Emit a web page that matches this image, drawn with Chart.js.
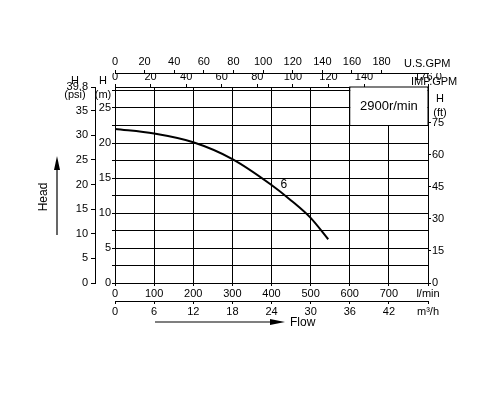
<!DOCTYPE html>
<html><head><meta charset="utf-8">
<script src="https://cdn.jsdelivr.net/npm/chart.js@4/dist/chart.umd.min.js"></script>
<style>html,body{margin:0;background:#fff}#w{width:500px;height:400px}</style>
</head><body><div id="w"><canvas id="c"></canvas></div>
<script>
const flowLmin = [0, 100, 200, 300, 400, 450, 500, 545];
const headM    = [22, 21.35, 20.1, 17.7, 14.0, 11.8, 9.3, 6.25];
const curveLabel = "6";
const speedLabel = "2900r/min";
const M_MAX = 28, Q_MAX = 800;

const F = "'Liberation Sans', Arial, sans-serif";
Chart.defaults.font.family = F;
Chart.defaults.font.size = 11;
Chart.defaults.color = '#000';

function fix(w, h) { return s => { if (w != null) s.width = w; if (h != null) s.height = h; }; }
const base = (extra) => Object.assign({
  border: {color: '#000', width: 1},
  ticks: {color: '#000', padding: 2},
}, extra);

const deco = {
  id: 'deco',
  beforeDatasetsDraw(ch) {
    const {ctx, scales: {x, y}} = ch;
    const L = x.getPixelForValue(600), R = x.getPixelForValue(800);
    const T = y.getPixelForValue(M_MAX), B = y.getPixelForValue(22.5);
    ctx.save();
    ctx.fillStyle = '#fff'; ctx.fillRect(L + 0.5, T, R - L - 1, B - T);
    ctx.strokeStyle = '#000'; ctx.lineWidth = 1;
    ctx.strokeRect(L, T, R - L, B - T);
    ctx.fillStyle = '#000'; ctx.font = '13px ' + F; ctx.textAlign = 'center'; ctx.textBaseline = 'middle';
    ctx.fillText(speedLabel, (L + R) / 2, (T + B) / 2);
    ctx.restore();
  },
  afterDraw(ch) {
    const {ctx, scales: {x, y}} = ch;
    ctx.save();
    ctx.fillStyle = '#000'; ctx.strokeStyle = '#000';
    ctx.font = '11px ' + F; ctx.textBaseline = 'middle'; ctx.textAlign = 'center';
    ctx.fillText('H', 75, 81); ctx.fillText('(psi)', 75, 95);
    ctx.fillText('H', 103, 81); ctx.fillText('(m)', 103, 95);
    ctx.fillText('H', 440, 99); ctx.fillText('(ft)', 440, 113);
    ctx.textAlign = 'left';
    ctx.fillText('U.S.GPM', 404, 64);
    ctx.fillText('IMP.GPM', 411, 82);
    ctx.font = '12px ' + F;
    ctx.fillText(curveLabel, x.getPixelForValue(423), y.getPixelForValue(14));
    // Flow arrow
    ctx.lineWidth = 1.2;
    ctx.beginPath(); ctx.moveTo(155, 322); ctx.lineTo(272, 322); ctx.stroke();
    ctx.beginPath(); ctx.moveTo(285, 322); ctx.lineTo(270, 319); ctx.lineTo(270, 325); ctx.closePath(); ctx.fill();
    ctx.fillText('Flow', 290, 323);
    // Head arrow
    ctx.beginPath(); ctx.moveTo(57, 235); ctx.lineTo(57, 168); ctx.stroke();
    ctx.beginPath(); ctx.moveTo(57, 156); ctx.lineTo(54, 170); ctx.lineTo(60, 170); ctx.closePath(); ctx.fill();
    ctx.translate(44, 197); ctx.rotate(-Math.PI / 2); ctx.textAlign = 'center';
    ctx.fillText('Head', 0, 0);
    ctx.restore();
  }
};

new Chart(document.getElementById('c'), {
  type: 'line',
  data: { datasets: [{
    data: flowLmin.map((q, i) => ({x: q, y: headM[i]})),
    borderColor: '#000', borderWidth: 2, pointRadius: 0, tension: 0.4, cubicInterpolationMode: 'monotone'
  }]},
  options: {
    responsive: true, maintainAspectRatio: false, animation: false,
    plugins: {legend: {display: false}, tooltip: {enabled: false}},
    layout: {padding: {left: 55, right: 50, top: 55, bottom: 81}},
    scales: {
      x: base({type: 'linear', position: 'bottom', min: 0, max: Q_MAX, weight: 0,
        afterFit: fix(null, 18),
        grid: {color: '#000', tickLength: 3},
        ticks: {stepSize: 100, color: '#000', padding: 1, maxRotation: 0, callback: v => v === 800 ? 'l/min' : v}}),
      xm3: base({type: 'linear', position: 'bottom', min: 0, max: Q_MAX * 0.06, weight: 1,
        afterFit: fix(null, 18),
        grid: {drawOnChartArea: false, color: '#000', tickLength: 3},
        ticks: {stepSize: 6, color: '#000', padding: 1, maxRotation: 0, callback: v => v === 48 ? 'm³/h' : v}}),
      ximp: base({type: 'linear', position: 'top', min: 0, max: Q_MAX / 4.546, weight: 0,
        afterFit: fix(null, 14),
        grid: {drawOnChartArea: false, color: '#000', tickLength: 3},
        ticks: {stepSize: 20, color: '#000', padding: 0, maxRotation: 0}}),
      xus: base({type: 'linear', position: 'top', min: 0, max: Q_MAX / 3.785, weight: 1,
        afterFit: fix(null, 18),
        afterBuildTicks: s => { s.ticks = s.ticks.filter(t => t.value <= 180); },
        grid: {drawOnChartArea: false, color: '#000', tickLength: 3},
        ticks: {stepSize: 20, color: '#000', padding: 1, maxRotation: 0}}),
      y: base({type: 'linear', position: 'left', min: 0, max: M_MAX, weight: 0,
        afterFit: fix(20, null),
        afterBuildTicks: s => { s.ticks = []; for (let v = 0; v <= 27.5; v += 2.5) s.ticks.push({value: v}); },
        grid: {color: '#000', tickLength: 3},
        ticks: {color: '#000', padding: 1, callback: v => v % 5 === 0 ? v : ''}}),
      ypsi: base({type: 'linear', position: 'left', min: 0, max: M_MAX * 1.4223, weight: 1,
        afterFit: fix(40, null),
        grid: {drawOnChartArea: false, color: '#000', tickLength: 4},
        ticks: {stepSize: 5, color: '#000', padding: 3}}),
      yft: base({type: 'linear', position: 'right', min: 0, max: M_MAX * 3.2808, weight: 0,
        afterFit: fix(22, null),
        afterBuildTicks: s => { s.ticks = s.ticks.filter(t => t.value <= 75); },
        grid: {drawOnChartArea: false, color: '#000', tickLength: 3},
        ticks: {stepSize: 15, color: '#000', padding: 1}})
    }
  },
  plugins: [deco]
});
</script></body></html>
